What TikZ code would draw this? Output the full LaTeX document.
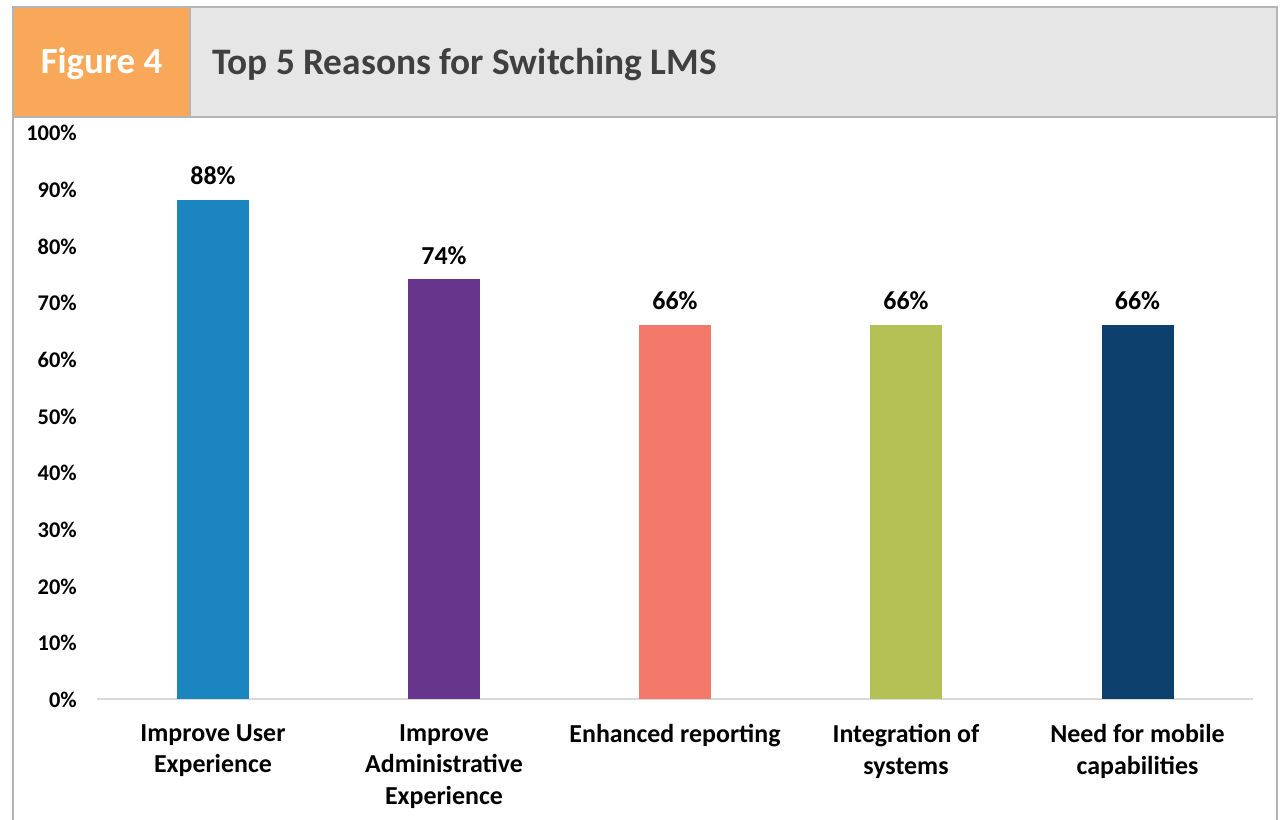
\documentclass[tikz,border=0pt]{standalone}
\usepackage{fontspec}
\setmainfont{Carlito}
\usetikzlibrary{positioning}

\definecolor{figorange}{HTML}{F9A85A}
\definecolor{headgray}{HTML}{E6E6E6}
\definecolor{framegray}{HTML}{B4B4B4}
\definecolor{titlegray}{HTML}{404040}
\definecolor{axisgray}{HTML}{D9D9D9}
\definecolor{barblue}{HTML}{1B85BF}
\definecolor{barpurple}{HTML}{67358B}
\definecolor{barsalmon}{HTML}{F2786A}
\definecolor{barolive}{HTML}{B6C155}
\definecolor{barnavy}{HTML}{0D406C}

\begin{document}
\begin{tikzpicture}[
    x=1bp, y=-1bp,
    node distance=16bp,
    headbox/.style={rectangle, minimum height=110bp, inner sep=0pt, outer sep=0pt},
    frame/.style={draw=framegray, line width=2.5bp},
    bar/.style={rectangle, anchor=south, minimum width=72bp, inner sep=0pt, outer sep=0pt},
    ticklabel/.style={anchor=east, inner sep=0pt, font=\fontsize{22.5}{26}\selectfont\bfseries},
    vallabel/.style={inner sep=0pt, font=\fontsize{26}{30}\selectfont\bfseries},
    catlabel/.style={anchor=north, align=center, inner sep=0pt, font=\fontsize{26}{32}\selectfont\bfseries}
]
\useasboundingbox (0,0) rectangle (1281,820);

% Header
\node[headbox, fill=figorange, minimum width=177bp] (fighead) at (101.5,62) {};
\node[headbox, fill=headgray, minimum width=1087bp, right=0pt of fighead] (titlehead) {};
\node[text=white, font=\fontsize{37}{44}\selectfont\bfseries] (fignum) at (101.5,64) {Figure 4};
\node[anchor=west, inner sep=0pt, text=titlegray, font=\fontsize{37.5}{44}\selectfont\bfseries] (title) at (212,65) {Top 5 Reasons for Switching LMS};

% Frame
\draw[frame] (13,830) -- (13,7) -- (1277,7) -- (1277,830);
\draw[frame] (13,117) -- (1277,117);
\draw[frame] (190,7) -- (190,117);

% Axis
\coordinate (axisL) at (97,699);
\coordinate (axisR) at (1253,699);
\draw[axisgray, line width=1.5bp] (axisL) -- (axisR);
\foreach \t in {0,10,...,100}
  \node[ticklabel] (tick\t) at (77,{700-5.67*\t}) {\t\%};

% Bars, values and categories
\foreach \x/\v/\c/\name/\lab in {
    213/88/barblue/ux/{Improve User\\Experience},
    444/74/barpurple/admin/{Improve\\Administrative\\Experience},
    675/66/barsalmon/report/{Enhanced reporting},
    906/66/barolive/integ/{Integration of\\systems},
    1137.5/66/barnavy/mobile/{Need for mobile\\capabilities}} {
  \node[bar, fill=\c, minimum height={5.67bp*\v}] (\name) at (\x,699) {};
  \node[vallabel, above=15bp of \name] (\name val) {\v\%};
  \node[catlabel] (\name cat) at (\x,724) {\lab};
}

\end{tikzpicture}
\end{document}
